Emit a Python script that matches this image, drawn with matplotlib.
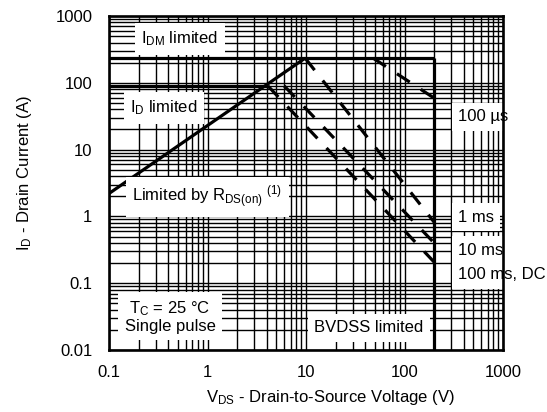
import matplotlib
matplotlib.use("Agg")
import matplotlib.pyplot as plt
from matplotlib.ticker import LogLocator, FixedLocator, NullFormatter

plt.rcParams['font.family'] = ['Liberation Sans', 'DejaVu Sans']
plt.rcParams['mathtext.fontset'] = 'custom'
plt.rcParams['mathtext.rm'] = 'Liberation Sans'
plt.rcParams['mathtext.it'] = 'Liberation Sans:italic'
plt.rcParams['lines.scale_dashes'] = False

# ---- data (V in volts, I in amps) ----
rds_v = [0.1, 9.8];    rds_i = [2.2, 234]
idm_v = [0.1, 200];    idm_i = [234, 234]
id_v = [0.1, 4.1];     id_i = [90, 90]
bv_v = [200, 200];     bv_i = [234, 0.01]
us100_v = [48, 200];   us100_i = [234, 59]
ms1_v = [9.8, 200];    ms1_i = [234, 0.82]
ms10_v = [6.0, 200];   ms10_i = [90, 0.40]
dc_v = [4.1, 200];     dc_i = [90, 0.207]

x_ticks = [0.1, 1, 10, 100, 1000]
x_ticklabels = ['0.1', '1', '10', '100', '1000']
y_ticks = [0.01, 0.1, 1, 10, 100, 1000]
y_ticklabels = ['0.01', '0.1', '1', '10', '100', '1000']

fig = plt.figure(figsize=(5.47, 4.12), dpi=100)
ax = fig.add_axes([109/547, 1-350/412, 394/547, 334/412])
ax.set_xscale('log')
ax.set_yscale('log')
ax.set_xlim(0.1, 1000)
ax.set_ylim(0.01, 1000)

ax.xaxis.set_major_locator(FixedLocator(x_ticks))
ax.set_xticklabels(x_ticklabels)
ax.yaxis.set_major_locator(FixedLocator(y_ticks))
ax.set_yticklabels(y_ticklabels)
ax.xaxis.set_minor_locator(LogLocator(base=10, subs=range(2, 10), numticks=20))
ax.yaxis.set_minor_locator(LogLocator(base=10, subs=range(2, 10), numticks=20))
ax.xaxis.set_minor_formatter(NullFormatter())
ax.yaxis.set_minor_formatter(NullFormatter())
ax.tick_params(which='both', length=0, labelsize=12)
ax.tick_params(axis='x', pad=11)
ax.tick_params(axis='y', pad=12)
ax.grid(which='both', color='black', lw=1.0, zorder=0)
ax.set_axisbelow(True)
for s in ax.spines.values():
    s.set_linewidth(1.9)
    s.set_zorder(6)

solid = dict(color='black', lw=2.3, solid_capstyle='butt', zorder=4)
dash = dict(color='black', lw=2.3, dashes=(11, 9.5), dash_capstyle='butt', zorder=4)
ax.plot(rds_v, rds_i, **solid)
ax.plot(idm_v, idm_i, **solid)
ax.plot(id_v, id_i, **solid)
ax.plot(bv_v, bv_i, **solid)
ax.plot(us100_v, us100_i, **dash)
ax.plot(ms1_v, ms1_i, **dash)
ax.plot(ms10_v, ms10_i, **dash)
ax.plot(dc_v, dc_i, **dash)

box = dict(facecolor='white', edgecolor='none', pad=4.5)
tk = dict(fontsize=12, transform=ax.transAxes, zorder=5, bbox=box, clip_on=False)
ax.text(0.180, 0.931, r'$\mathrm{I_{DM}}$ limited', ha='center', va='center', **tk)
ax.text(0.140, 0.725, r'$\mathrm{I_{D}}$ limited', ha='center', va='center', **tk)
ax.text(0.250, 0.458, r'Limited by R$_\mathrm{DS(on)}$ $^\mathrm{(1)}$', ha='center', va='center', **tk)
ax.text(0.155, 0.099, 'T$_\\mathrm{C}$ = 25 °C\nSingle pulse', ha='center', va='center',
        linespacing=1.05, **tk)
ax.text(0.660, 0.066, 'BVDSS limited', ha='center', va='center', **tk)
ax.text(0.886, 0.698, '100 µs', ha='left', va='center', **tk)
ax.text(0.886, 0.398, '1 ms', ha='left', va='center', **tk)
ax.text(0.886, 0.299, '10 ms', ha='left', va='center', **tk)
ax.text(0.886, 0.225, '100 ms, DC', ha='left', va='center', **tk)

ax.set_xlabel(r'V$_\mathrm{DS}$ - Drain-to-Source Voltage (V)', fontsize=12)
ax.set_ylabel(r'I$_\mathrm{D}$ - Drain Current (A)', fontsize=12)
ax.xaxis.set_label_coords(0.561, -0.115)
ax.yaxis.set_label_coords(-0.19, 0.53)

fig.savefig('out.png', dpi=100)
